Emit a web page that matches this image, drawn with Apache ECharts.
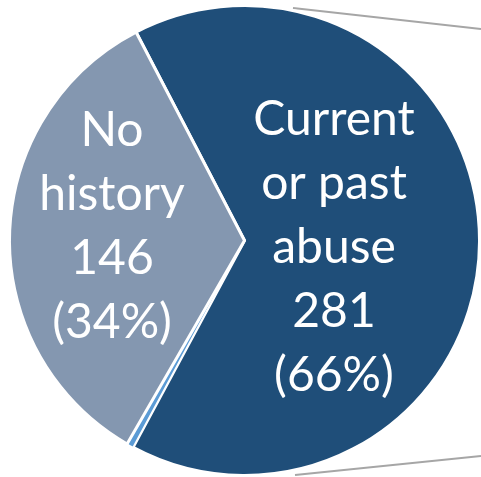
<!DOCTYPE html>
<html>
<head>
<meta charset="utf-8">
<script src="https://cdn.jsdelivr.net/npm/echarts@6/dist/echarts.min.js"></script>
<style>
  html, body { margin: 0; padding: 0; background: #ffffff; }
  #chart { width: 481px; height: 477px; }
</style>
</head>
<body>
<div id="chart"></div>
<script>
// Substance-abuse history breakdown
const categories = ['Current\nor past\nabuse', 'Other', 'No\nhistory'];
const counts = [281, 2, 146];
const colors = ['#1F4E79', '#5B9BD5', '#8497B0'];
const showLabel = [true, false, true];
const borderWidths = [3, 1.5, 3];

const total = counts.reduce((a, b) => a + b, 0);

const data = categories.map((name, i) => ({
  name: name,
  value: counts[i],
  itemStyle: { color: colors[i], borderWidth: borderWidths[i] },
  label: { show: showLabel[i] }
}));

// per-slice nudges of the inside labels
const labelShift = [
  { dx: -31, dy: 6 },
  { dx: 0, dy: 0 },
  { dx: -12, dy: -11 }
];

const chart = echarts.init(document.getElementById('chart'), null, { renderer: 'canvas' });

chart.setOption({
  backgroundColor: '#ffffff',
  animation: false,
  graphic: [
    {
      type: 'line', z: 0,
      shape: { x1: 293, y1: 8, x2: 481, y2: 29 },
      style: { stroke: '#A6A6A6', lineWidth: 2 }
    },
    {
      type: 'line', z: 0,
      shape: { x1: 295, y1: 475, x2: 481, y2: 456 },
      style: { stroke: '#A6A6A6', lineWidth: 2 }
    }
  ],
  series: [{
    type: 'pie',
    z: 2,
    center: [244.5, 240.5],
    radius: [0, 235],
    startAngle: 117.5,
    clockwise: true,
    avoidLabelOverlap: false,
    itemStyle: { borderColor: '#ffffff', borderWidth: 3 },
    label: {
      position: 'inside',
      color: '#ffffff',
      fontFamily: 'Lato',
      fontSize: 48,
      lineHeight: 64,
      align: 'center',
      formatter: function (p) {
        const pct = Math.round(p.value / total * 100);
        return p.name + '\n' + p.value + '\n(' + pct + '%)';
      }
    },
    labelLine: { show: false },
    labelLayout: function (p) {
      return labelShift[p.dataIndex];
    },
    emphasis: { disabled: true },
    data: data
  }]
});
</script>
</body>
</html>
